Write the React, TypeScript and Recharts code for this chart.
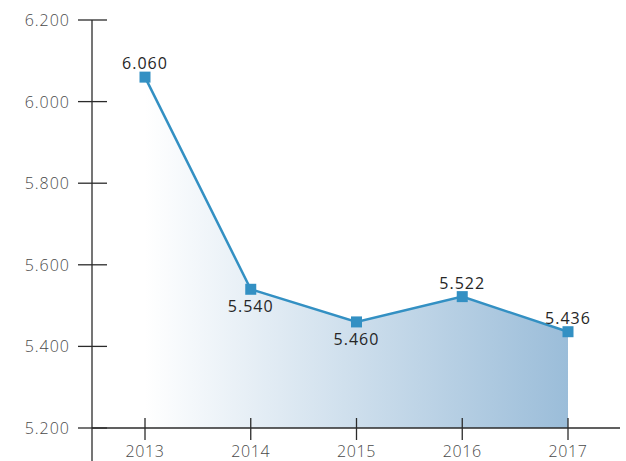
import { Area, AreaChart, LabelList, XAxis, YAxis } from 'recharts';

const years = ['2013', '2014', '2015', '2016', '2017'];
const values = [6060, 5540, 5460, 5522, 5436];
const yTicks = [5200, 5400, 5600, 5800, 6000, 6200];
const labelSide = ['top', 'bottom', 'bottom', 'top', 'top'];

const data = years.map((year, i) => ({ year, value: values[i], side: labelSide[i] }));

const LINE = '#3390c3';
const AXIS = '#2b2b2b';
const FONT = '"Open Sans", sans-serif';

const fmt = (v: number) => v.toLocaleString('de-DE', { minimumFractionDigits: 0 }).replace(',', '.');

function YTick({ x, y, payload, index }: any) {
  return (
    <g>
      <line x1={x - 14} x2={x + 15} y1={y} y2={y} stroke={AXIS} strokeWidth={1.3} />
      {index === 0 && <line x1={x} x2={x} y1={y} y2={y + 34} stroke={AXIS} strokeWidth={1.3} />}
      <text x={x - 22} y={y} dy={6} textAnchor="end" fill="#4a4a4a" fontSize={16} fontFamily={FONT} fontWeight={300} letterSpacing={1}>
        {fmt(payload.value)}
      </text>
    </g>
  );
}

function XTick({ x, y, payload }: any) {
  return (
    <g>
      <line x1={x} x2={x} y1={y - 10} y2={y + 12} stroke={AXIS} strokeWidth={1.3} />
      <text x={x} y={y + 29} textAnchor="middle" fill="#4a4a4a" fontSize={16} fontFamily={FONT} fontWeight={300} letterSpacing={0.6}>
        {payload.value}
      </text>
    </g>
  );
}

function Marker({ cx, cy }: any) {
  return <rect x={cx - 5.5} y={cy - 5.5} width={11} height={11} fill={LINE} />;
}

function ValueLabel({ x, y, value, index }: any) {
  const below = data[index].side === 'bottom';
  return (
    <text x={x} y={below ? y + 23 : y - 8} textAnchor="middle" fill="#262626" fontSize={16} fontFamily={FONT} letterSpacing={1}>
      {fmt(value)}
    </text>
  );
}

export default function App() {
  return (
    <div style={{ position: 'absolute', left: 0, top: 0, background: '#fff' }}>
      <AreaChart width={626} height={461} data={data} margin={{ top: 20, right: 6, bottom: 0, left: 91 }}>
        <defs>
          <linearGradient id="areaFill" x1="0" y1="0" x2="1" y2="0">
            <stop offset="0%" stopColor="#ffffff" />
            <stop offset="100%" stopColor="#9bbdd9" />
          </linearGradient>
        </defs>
        <XAxis
          dataKey="year"
          padding={{ left: 53, right: 52 }}
          axisLine={{ stroke: AXIS, strokeWidth: 1.3 }}
          tickLine={false}
          tickSize={0}
          tickMargin={0}
          tick={<XTick />}
          height={33}
        />
        <YAxis
          domain={[5200, 6200]}
          ticks={yTicks}
          axisLine={{ stroke: AXIS, strokeWidth: 1.3 }}
          tickLine={false}
          tickSize={0}
          tickMargin={0}
          tick={<YTick />}
          width={1}
        />
        <Area
          type="linear"
          dataKey="value"
          stroke={LINE}
          strokeWidth={2.5}
          fill="url(#areaFill)"
          fillOpacity={1}
          baseValue={5200}
          dot={<Marker />}
          activeDot={false}
          isAnimationActive={false}
        >
          <LabelList dataKey="value" content={<ValueLabel />} />
        </Area>
      </AreaChart>
    </div>
  );
}
